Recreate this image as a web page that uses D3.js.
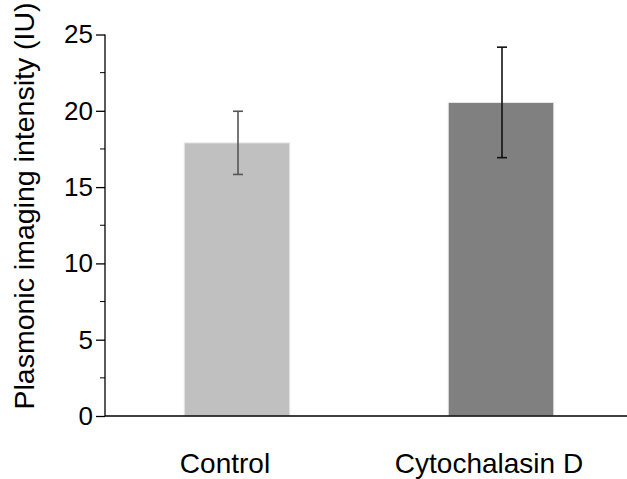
<!DOCTYPE html>
<html>
<head>
<meta charset="utf-8">
<script src="https://cdn.jsdelivr.net/npm/d3@7"></script>
<style>
  body { margin: 0; background: #fff; }
  text { font-family: "Liberation Sans", Arial, sans-serif; fill: #000; }
</style>
</head>
<body>
<div id="chart"></div>
<script>
// data
var categories = ["Control", "Cytochalasin D"];
var means = [17.9, 20.55];
var errors = [2.07, 3.62];
var barColors = ["#c0c0c0", "#808080"];
var errColors = ["#555555", "#111111"];
var yTicks = [0, 5, 10, 15, 20, 25];
var yMinorTicks = [2.5, 7.5, 12.5, 17.5, 22.5];

var width = 627, height = 479;

var svg = d3.select("#chart")
  .append("svg")
  .attr("width", width)
  .attr("height", height);

// scales
var x = d3.scalePoint()
  .domain(categories)
  .range([105, 633])
  .padding(0.5);

var barWidth = x.step() * 0.4;

var y = d3.scaleLinear()
  .domain([0, 25])
  .range([416, 34.5]);

var data = categories.map(function(c, i) {
  return { name: c, mean: means[i], err: errors[i], fill: barColors[i], errColor: errColors[i] };
});

// bars
svg.selectAll(".bar")
  .data(data)
  .enter()
  .append("rect")
  .attr("class", "bar")
  .attr("x", function(d) { return x(d.name) - barWidth / 2; })
  .attr("y", function(d) { return y(d.mean); })
  .attr("width", barWidth)
  .attr("height", function(d) { return y(0) - y(d.mean); })
  .attr("fill", function(d) { return d.fill; })
  .attr("stroke", "#ececec")
  .attr("stroke-width", 1);

// error bars
var eb = svg.selectAll(".err")
  .data(data)
  .enter()
  .append("g")
  .attr("class", "err")
  .attr("stroke", function(d) { return d.errColor; })
  .attr("stroke-width", 1.6);

eb.append("line")
  .attr("x1", function(d) { return x(d.name) + 1; })
  .attr("x2", function(d) { return x(d.name) + 1; })
  .attr("y1", function(d) { return y(d.mean + d.err); })
  .attr("y2", function(d) { return y(d.mean - d.err); });

eb.selectAll(".cap")
  .data(function(d) { return [d.mean + d.err, d.mean - d.err].map(function(v) { return { name: d.name, v: v }; }); })
  .enter()
  .append("line")
  .attr("x1", function(d) { return x(d.name) + 1 - 5; })
  .attr("x2", function(d) { return x(d.name) + 1 + 5; })
  .attr("y1", function(d) { return y(d.v); })
  .attr("y2", function(d) { return y(d.v); });

// y axis
var yAxis = d3.axisLeft(y)
  .tickValues(yTicks)
  .tickSize(9)
  .tickPadding(3)
  .tickFormat(d3.format("d"));

var gy = svg.append("g")
  .attr("transform", "translate(105,0)")
  .call(yAxis);

gy.select(".domain").attr("d", "M0," + y(25) + "V" + y(0)).attr("stroke-width", 1.3);
gy.selectAll(".tick line").attr("stroke-width", 1.3);
gy.selectAll(".tick text").style("font-size", "26px");

gy.selectAll(".minor")
  .data(yMinorTicks)
  .enter()
  .append("line")
  .attr("class", "minor")
  .attr("x1", -5)
  .attr("x2", 0)
  .attr("y1", function(d) { return y(d); })
  .attr("y2", function(d) { return y(d); })
  .attr("stroke", "#000")
  .attr("stroke-width", 1);

// x axis line
svg.append("line")
  .attr("x1", 105)
  .attr("x2", width)
  .attr("y1", y(0))
  .attr("y2", y(0))
  .attr("stroke", "#000")
  .attr("stroke-width", 1.3);

// category labels
svg.selectAll(".xlabel")
  .data(categories)
  .enter()
  .append("text")
  .attr("class", "xlabel")
  .attr("x", function(d) { return x(d) - 12; })
  .attr("y", 473)
  .attr("text-anchor", "middle")
  .style("font-size", "28px")
  .text(function(d) { return d; });

// y axis title
svg.append("text")
  .attr("transform", "translate(34,206) rotate(-90)")
  .attr("text-anchor", "middle")
  .style("font-size", "28.5px")
  .text("Plasmonic imaging intensity (IU)");
</script>
</body>
</html>
